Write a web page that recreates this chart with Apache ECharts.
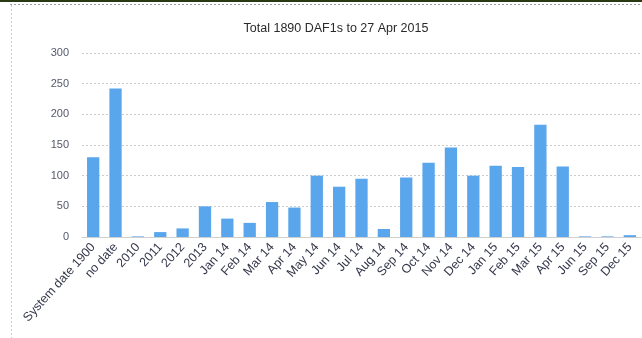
<!DOCTYPE html>
<html>
<head>
<meta charset="utf-8">
<script src="https://cdn.jsdelivr.net/npm/echarts@6/dist/echarts.min.js"></script>
<style>
  html, body { margin: 0; padding: 0; background: #ffffff; }
  #chart { width: 642px; height: 338px; }
</style>
</head>
<body>
<div id="chart"></div>
<script>
// DAF1 counts by recorded date
var categories = [
  'System date 1900', 'no date', '2010', '2011', '2012', '2013',
  'Jan 14', 'Feb 14', 'Mar 14', 'Apr 14', 'May 14', 'Jun 14', 'Jul 14',
  'Aug 14', 'Sep 14', 'Oct 14', 'Nov 14', 'Dec 14', 'Jan 15', 'Feb 15',
  'Mar 15', 'Apr 15', 'Jun 15', 'Sep 15', 'Dec 15'
];
var counts = [
  130, 242, 1, 8, 14, 50,
  30, 23, 57, 48, 100, 82, 95,
  13, 97, 121, 146, 100, 116, 114,
  183, 115, 1, 1, 3
];
var yTicks = { min: 0, max: 300, interval: 50 };
var titleText = 'Total 1890 DAF1s to 27 Apr 2015';

var chart = echarts.init(document.getElementById('chart'), null, { renderer: 'canvas' });
var labelColor = '#34374a';
var font = '"Liberation Sans", Arial, sans-serif';

chart.setOption({
  animation: false,
  backgroundColor: '#ffffff',
  title: {
    text: titleText,
    left: 331,
    textAlign: 'center',
    top: 17,
    textStyle: { fontFamily: font, fontSize: 12.5, fontWeight: 'normal', color: '#2a2a2a' }
  },
  grid: { left: 82, right: 1, top: 53, bottom: 101 },
  xAxis: {
    type: 'category',
    data: categories,
    axisLine: { lineStyle: { color: '#cfcfcf', width: 1 } },
    axisTick: { show: false },
    axisLabel: {
      interval: 0,
      rotate: 48,
      margin: 8,
      fontFamily: font,
      fontSize: 12.5,
      color: labelColor
    }
  },
  yAxis: {
    type: 'value',
    min: yTicks.min,
    max: yTicks.max,
    interval: yTicks.interval,
    axisLine: { show: false },
    axisTick: { show: false },
    axisLabel: { margin: 13, fontFamily: font, fontSize: 11, color: '#55586a' },
    splitLine: { lineStyle: { color: '#cacaca', type: [2, 2], width: 1 } }
  },
  series: [{
    type: 'bar',
    data: counts,
    barCategoryGap: '45%',
    itemStyle: { color: '#5aa6ec' }
  }],
  graphic: [
    { type: 'rect', shape: { x: 0, y: 0, width: 642, height: 2 }, style: { fill: '#2c3a14' } },
    { type: 'line', shape: { x1: 10, y1: 4.5, x2: 642, y2: 4.5 }, style: { stroke: '#9aa0a8', lineWidth: 1, lineDash: [2, 2] } },
    { type: 'line', shape: { x1: 11.5, y1: 5, x2: 11.5, y2: 338 }, style: { stroke: '#c8ccd2', lineWidth: 1, lineDash: [2, 2] } }
  ]
});
</script>
</body>
</html>
